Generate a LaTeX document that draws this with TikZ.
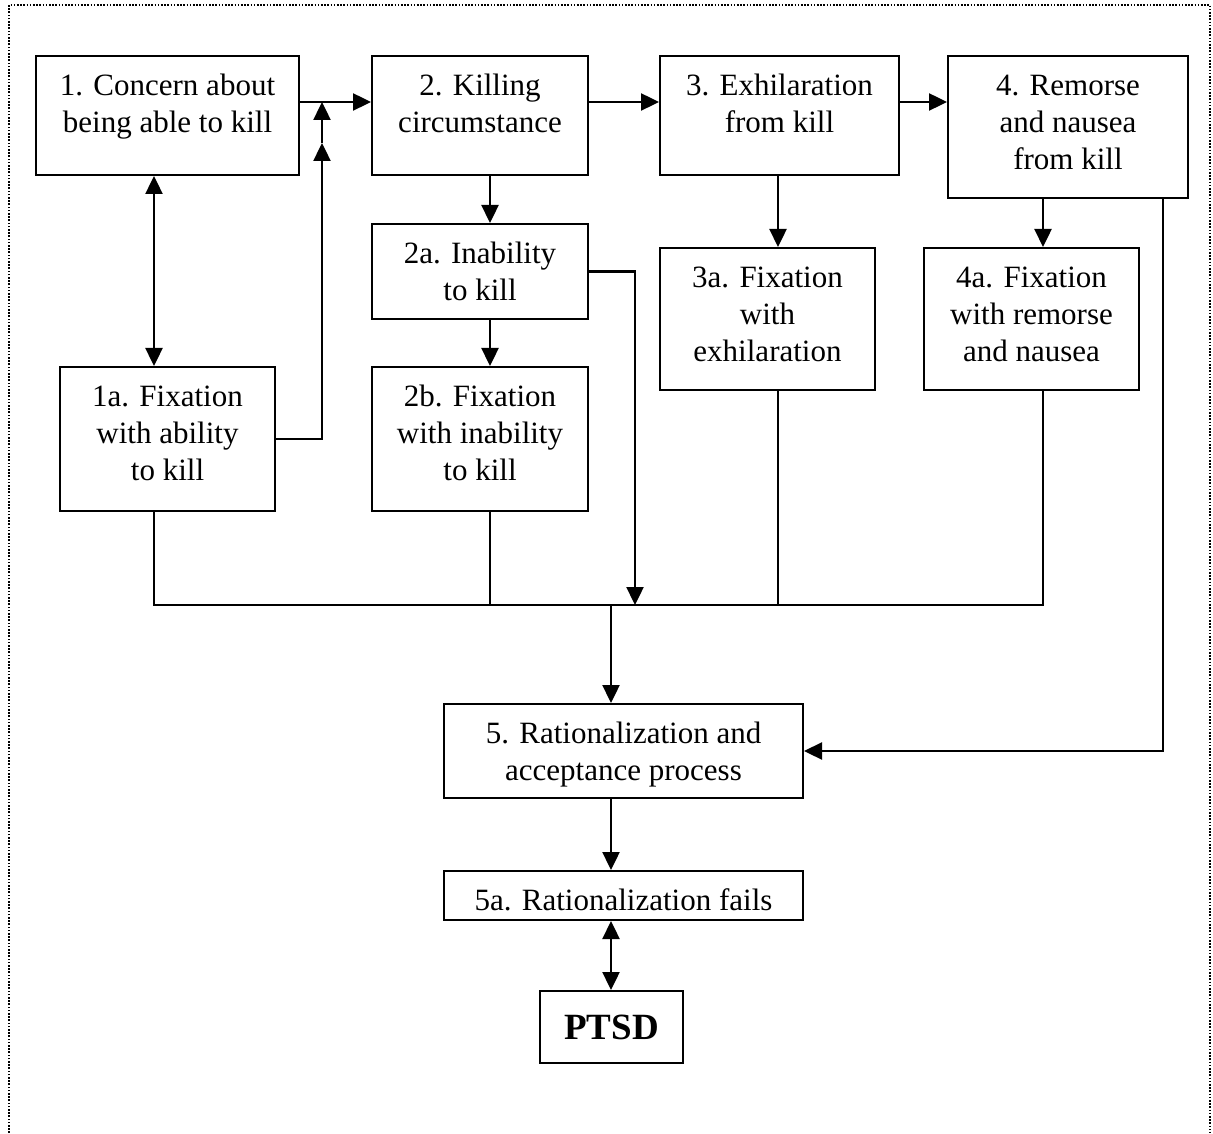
\documentclass[tikz,border=0pt]{standalone}
\usepackage{fontspec}
\setmainfont{Liberation Serif}
\usetikzlibrary{arrows.meta}

\newcommand{\boxtxt}[3]{\parbox[c][#2][t]{#1}{\centering\rule{0pt}{19.75pt}#3}}

\tikzset{
  box/.style={draw, line width=1pt, anchor=north west, inner sep=0pt,
    font=\fontsize{15.5}{18.5}\selectfont},
  arr/.style={-{Triangle[length=9pt,width=8.5pt]}, line width=1.2pt},
  dbl/.style={{Triangle[length=9pt,width=8.5pt]}-{Triangle[length=9pt,width=8.5pt]}, line width=1.2pt},
  ln/.style={line width=1pt}
}

\begin{document}
\begin{tikzpicture}[x=0.5pt,y=-0.5pt]
\useasboundingbox (0,0) rectangle (1213,1133);
\draw[line width=0.8pt, dash pattern=on 0.8pt off 0.8pt] (9,1133) -- (9,5) -- (1210,5) -- (1210,1133);

% boxes
\node[box] (b1) at (35,55) {\boxtxt{131.5pt}{59.5pt}{1. Concern about\\being able to kill}};
\node[box] (b2) at (371,55) {\boxtxt{108pt}{59.5pt}{2. Killing\\circumstance}};
\node[box] (b3) at (659,55) {\boxtxt{119.5pt}{59.5pt}{3. Exhilaration\\from kill}};
\node[box] (b4) at (947,55) {\boxtxt{120pt}{71pt}{4. Remorse\\and nausea\\from kill}};
\node[box] (b2a) at (371,223) {\boxtxt{108pt}{47.5pt}{2a. Inability\\to kill}};
\node[box] (b3a) at (659,247) {\boxtxt{107.5pt}{71pt}{3a. Fixation\\with\\exhilaration}};
\node[box] (b4a) at (923,247) {\boxtxt{107.5pt}{71pt}{4a. Fixation\\with remorse\\and nausea}};
\node[box] (b1a) at (59,366) {\boxtxt{107.5pt}{72pt}{1a. Fixation\\with ability\\to kill}};
\node[box] (b2b) at (371,366) {\boxtxt{108pt}{72pt}{2b. Fixation\\with inability\\to kill}};
\node[box] (b5) at (443,703) {\boxtxt{179.5pt}{47pt}{5. Rationalization and\\acceptance process}};
\node[box] (b5a) at (443,870) {\boxtxt{179.5pt}{24.5pt}{5a. Rationalization fails}};
\node[box, minimum width=71.5pt, minimum height=36pt, font=\fontsize{18.5}{22}\selectfont\bfseries] (ptsd) at (539,990) {PTSD};

% columns and rows for the connectors
\coordinate (c1) at (154,0);
\coordinate (c2) at (490,0);
\coordinate (c3) at (778,0);
\coordinate (c4) at (1043,0);
\coordinate (c5) at (611,0);
\coordinate (cr) at (1163,0);
\coordinate (r1) at (0,102);
\coordinate (bus) at (0,605);
\coordinate (m1) at (322,143);
\coordinate (j1) at (322,102);
\coordinate (d2) at (635,605);

% top row
\draw[arr] (b1.east |- r1) -- (b2.west |- r1);
\draw[arr] (b2.east |- r1) -- (b3.west |- r1);
\draw[arr] (b3.east |- r1) -- (b4.west |- r1);
\draw[dbl] (b1.south -| c1) -- (b1a.north -| c1);
\draw[arr] (b1a.east) -| (m1);
\draw[arr] (m1) -- (j1);

% down the columns
\draw[arr] (b2.south -| c2) -- (b2a.north -| c2);
\draw[arr] (b2a.south -| c2) -- (b2b.north -| c2);
\draw[arr] (b3.south -| c3) -- (b3a.north -| c3);
\draw[arr] (b4.south -| c4) -- (b4a.north -| c4);
\draw[arr] (b2a.east) -| (d2);

% bus into 5
\draw[ln] (b1a.south -| c1) -- (c1 |- bus) -- (c4 |- bus) -- (b4a.south -| c4);
\draw[ln] (b2b.south -| c2) -- (c2 |- bus);
\draw[ln] (b3a.south -| c3) -- (c3 |- bus);
\draw[arr] (c5 |- bus) -- (b5.north -| c5);
\draw[arr] (b4.south -| cr) |- (b5.east);

% bottom
\draw[arr] (b5.south -| c5) -- (b5a.north -| c5);
\draw[dbl] (b5a.south -| c5) -- (ptsd.north -| c5);
\end{tikzpicture}
\end{document}
